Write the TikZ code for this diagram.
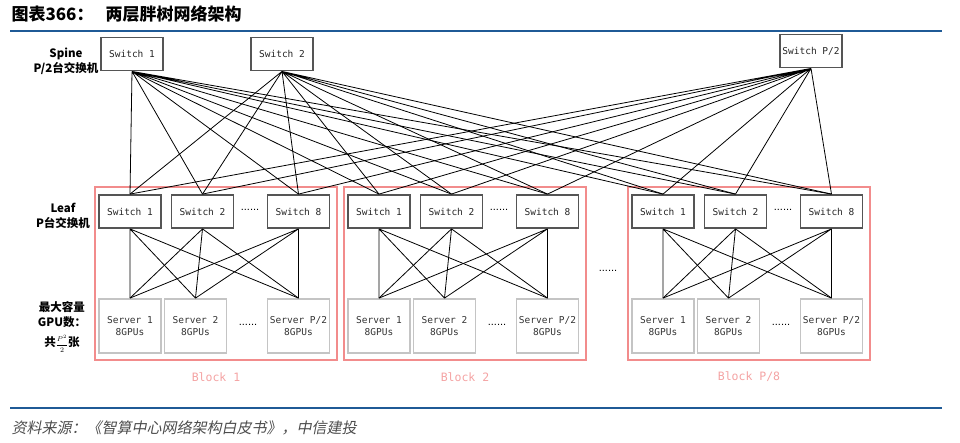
\documentclass[tikz,border=0pt]{standalone}
\usepackage{fontspec}
\setmainfont{Liberation Sans}
\setmonofont{DejaVu Sans Mono}
\newfontfamily\cjk{Noto Sans CJK SC}
\newfontfamily\cjkslant[FakeSlant=0.2]{Noto Sans CJK SC}
\usepackage{tikz}
\usetikzlibrary{positioning}
\definecolor{hdrblue}{HTML}{1F5A96}
\definecolor{boxgray}{HTML}{555555}
\definecolor{srvgray}{HTML}{C4C4C4}
\definecolor{blkred}{HTML}{F28C8C}
\definecolor{blktext}{HTML}{F4A3A3}

\begin{document}
\begin{tikzpicture}[
  x=1pt,y=-1pt,
  swnode/.style={draw=boxgray,line width=1.8pt,minimum width=62pt,minimum height=33pt,inner sep=0pt,
    font=\ttfamily\fontsize{9.5}{10}\selectfont,text=black!85},
  svnode/.style={draw=srvgray,line width=1.8pt,minimum width=62pt,minimum height=54pt,inner sep=0pt,
    align=center,font=\ttfamily\fontsize{9.5}{12}\selectfont,text=black!80},
  blk/.style={draw=blkred,line width=1.5pt,minimum width=242pt,minimum height=173pt,inner sep=0pt},
  blklab/.style={font=\ttfamily\fontsize{11.5}{12}\selectfont,text=blktext},
  edge/.style={line width=0.8pt},
  lab/.style={font=\cjk\bfseries\fontsize{11.5}{15}\selectfont,align=center},
  dots/.style={font=\fontsize{11}{11}\selectfont}
]
\useasboundingbox (0,0) rectangle (960,442);

% ---------------- header and footer ----------------
\node[anchor=west,font=\cjk\bfseries\fontsize{17}{18}\selectfont] (title) at (8,14)
  {图表366：\hspace{12pt}两层胖树网络架构};
\coordinate (hl) at (10,31);
\coordinate (hr) at (942,31);
\draw[hdrblue,line width=2pt] (hl) -- (hr);
\coordinate (fl) at (10,408);
\coordinate (fr) at (942,408);
\draw[hdrblue,line width=1.2pt] (fl) -- (fr);
\node[anchor=west,font=\cjkslant\fontsize{15}{16}\selectfont,text=black!70] (src) at (8,428)
  {资料来源：《智算中心网络架构白皮书》，中信建投};

% ---------------- spine ----------------
\node[swnode] (sp1) at (132,54) {Switch 1};
\node[swnode] (sp2) at (282,54) {Switch 2};
\node[swnode] (spp) at (811,51) {Switch P/2};

\node[lab] (spinelab) at (66,61) {Spine\\P/2台交换机};
\node[lab] (leaflab) at (63,216) {Leaf\\P台交换机};
\node[lab] (gpulab) at (62,327) {最大容量\\GPU数：\\[5pt]共{\fontsize{7}{8}\selectfont$\displaystyle\frac{P^2}{2}$}张};

% ---------------- block 1 ----------------
\begin{scope}[xshift=95pt]
  \node[blk] (blk1) at (121,273.5) {};
  \node[swnode] (lf11) at (35,211.5) {Switch 1};
  \node[swnode] (lf12) at (107.5,211.5) {Switch 2};
  \node[swnode] (lf18) at (203.5,211.5) {Switch 8};
  \node[dots] (ld1) at (155,210) {......};

  \node[svnode] (sv11) at (35,326) {Server 1\\8GPUs};
  \node[svnode] (sv12) at (100.5,326) {Server 2\\8GPUs};
  \node[svnode] (sv1p) at (203.5,326) {Server P/2\\8GPUs};
  \node[dots] (sd1) at (153,325) {......};

  \draw[edge] (lf11.south)--(sv11.north) (lf11.south)--(sv12.north) (lf11.south)--(sv1p.north);
  \draw[edge] (lf12.south)--(sv11.north) (lf12.south)--(sv12.north) (lf12.south)--(sv1p.north);
  \draw[edge] (lf18.south)--(sv11.north) (lf18.south)--(sv12.north) (lf18.south)--(sv1p.north);

  \node[blklab] (bl1) at (121,377) {Block 1};
\end{scope}

% ---------------- block 2 ----------------
\begin{scope}[xshift=344pt]
  \node[blk] (blk2) at (121,273.5) {};
  \node[swnode] (lf21) at (35,211.5) {Switch 1};
  \node[swnode] (lf22) at (107.5,211.5) {Switch 2};
  \node[swnode] (lf28) at (203.5,211.5) {Switch 8};
  \node[dots] (ld2) at (155,210) {......};

  \node[svnode] (sv21) at (35,326) {Server 1\\8GPUs};
  \node[svnode] (sv22) at (100.5,326) {Server 2\\8GPUs};
  \node[svnode] (sv2p) at (203.5,326) {Server P/2\\8GPUs};
  \node[dots] (sd2) at (153,325) {......};

  \draw[edge] (lf21.south)--(sv21.north) (lf21.south)--(sv22.north) (lf21.south)--(sv2p.north);
  \draw[edge] (lf22.south)--(sv21.north) (lf22.south)--(sv22.north) (lf22.south)--(sv2p.north);
  \draw[edge] (lf28.south)--(sv21.north) (lf28.south)--(sv22.north) (lf28.south)--(sv2p.north);

  \node[blklab] (bl2) at (121,377) {Block 2};
\end{scope}

\node[dots] (bd) at (608,271) {......};

% ---------------- block P/8 ----------------
\begin{scope}[xshift=628pt]
  \node[blk] (blkp) at (121,273.5) {};
  \node[swnode] (lfp1) at (35,211.5) {Switch 1};
  \node[swnode] (lfp2) at (107.5,211.5) {Switch 2};
  \node[swnode] (lfp8) at (203.5,211.5) {Switch 8};
  \node[dots] (ldp) at (155,210) {......};

  \node[svnode] (svp1) at (35,326) {Server 1\\8GPUs};
  \node[svnode] (svp2) at (100.5,326) {Server 2\\8GPUs};
  \node[svnode] (svpp) at (203.5,326) {Server P/2\\8GPUs};
  \node[dots] (sdp) at (153,325) {......};

  \draw[edge] (lfp1.south)--(svp1.north) (lfp1.south)--(svp2.north) (lfp1.south)--(svpp.north);
  \draw[edge] (lfp2.south)--(svp1.north) (lfp2.south)--(svp2.north) (lfp2.south)--(svpp.north);
  \draw[edge] (lfp8.south)--(svp1.north) (lfp8.south)--(svp2.north) (lfp8.south)--(svpp.north);

  \node[blklab] (blp) at (121,377) {Block P/8};
\end{scope}

% ---------------- spine to leaf ----------------
\draw[edge] (sp1.south)--(lf11.north) (sp1.south)--(lf12.north) (sp1.south)--(lf18.north)
            (sp1.south)--(lf21.north) (sp1.south)--(lf22.north) (sp1.south)--(lf28.north)
            (sp1.south)--(lfp1.north) (sp1.south)--(lfp2.north) (sp1.south)--(lfp8.north);
\draw[edge] (sp2.south)--(lf11.north) (sp2.south)--(lf12.north) (sp2.south)--(lf18.north)
            (sp2.south)--(lf21.north) (sp2.south)--(lf22.north) (sp2.south)--(lf28.north)
            (sp2.south)--(lfp1.north) (sp2.south)--(lfp2.north) (sp2.south)--(lfp8.north);
\draw[edge] (spp.south)--(lf11.north) (spp.south)--(lf12.north) (spp.south)--(lf18.north)
            (spp.south)--(lf21.north) (spp.south)--(lf22.north) (spp.south)--(lf28.north)
            (spp.south)--(lfp1.north) (spp.south)--(lfp2.north) (spp.south)--(lfp8.north);

\end{tikzpicture}
\end{document}
